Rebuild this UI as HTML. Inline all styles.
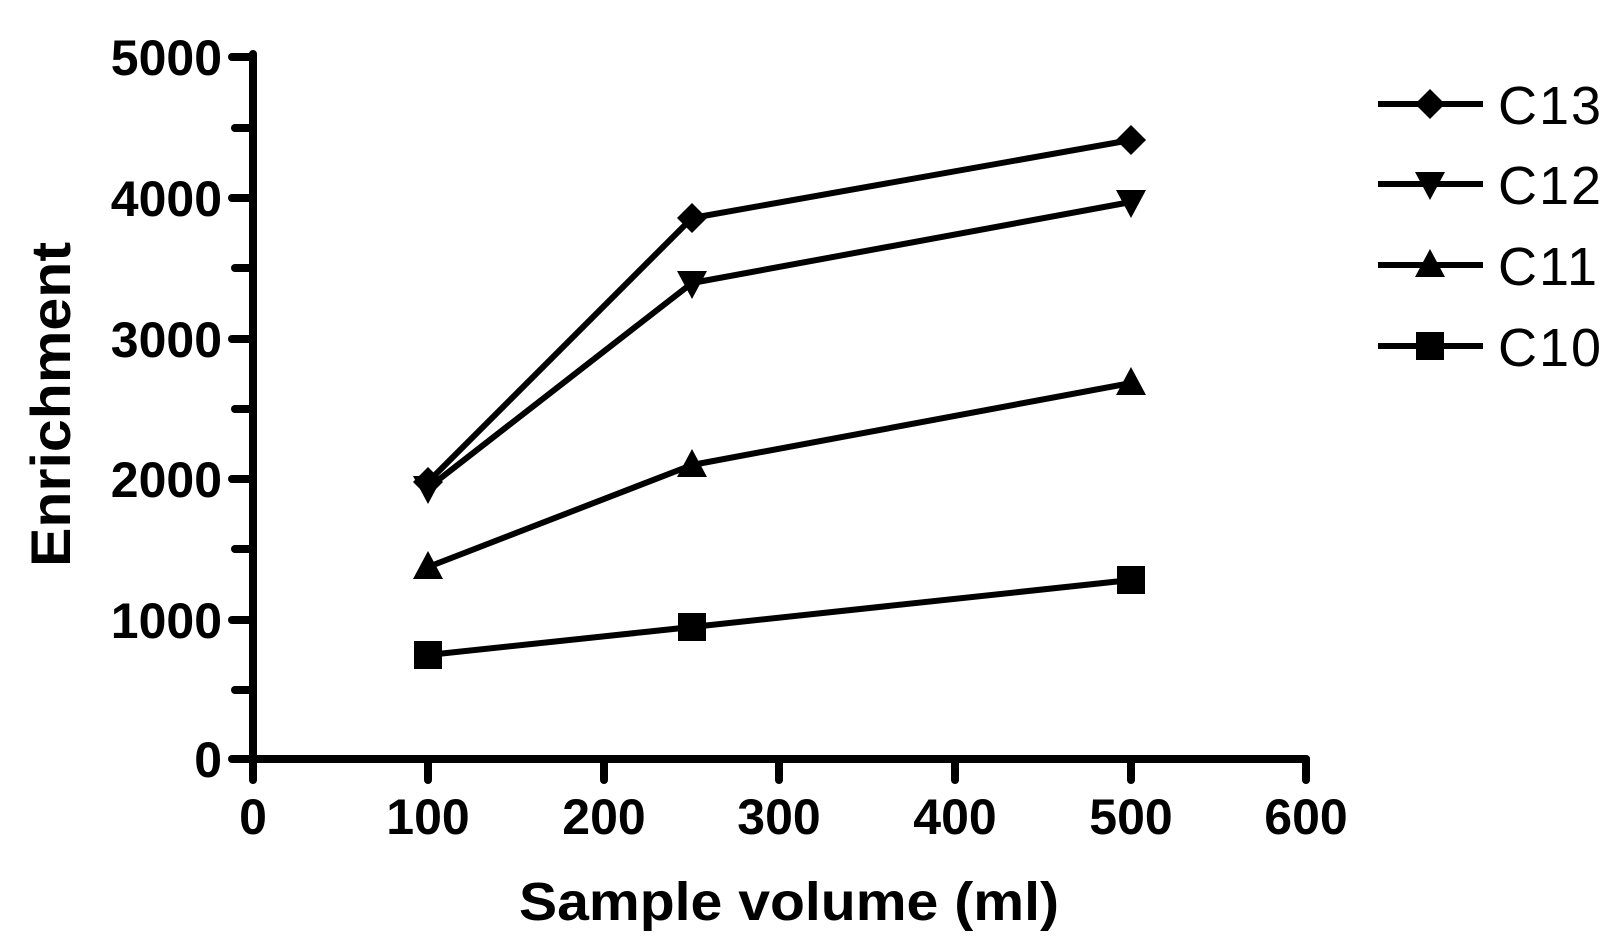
<!DOCTYPE html>
<html><head><meta charset="utf-8"><style>
html,body{margin:0;padding:0;background:#fff;}
svg{display:block;}
text{font-family:"Liberation Sans",Arial,sans-serif;fill:#000;}
.t{font-weight:bold;font-size:50px;}
</style></head><body>
<svg width="1620" height="945" viewBox="0 0 1620 945" xmlns="http://www.w3.org/2000/svg">
<defs>
<path id="dia" d="M0,-15 L15,0 L0,15 L-15,0 Z"/>
<path id="dn" d="M-15,-12 L15,-12 L0,16 Z"/>
<path id="up" d="M0,-16 L15,12 L-15,12 Z"/>
<path id="sq" d="M-14,-14 H14 V14 H-14 Z"/>
</defs>
<g stroke="#000" stroke-width="8" stroke-linecap="round" fill="none">
<line x1="253" y1="54" x2="253" y2="762"/>
<line x1="253" y1="759" x2="1306" y2="759"/>
<line x1="232" y1="57" x2="253" y2="57"/>
<line x1="235" y1="128" x2="253" y2="128"/>
<line x1="232" y1="198" x2="253" y2="198"/>
<line x1="235" y1="268" x2="253" y2="268"/>
<line x1="232" y1="339" x2="253" y2="339"/>
<line x1="235" y1="409" x2="253" y2="409"/>
<line x1="232" y1="479" x2="253" y2="479"/>
<line x1="235" y1="549" x2="253" y2="549"/>
<line x1="232" y1="620" x2="253" y2="620"/>
<line x1="235" y1="690" x2="253" y2="690"/>
<line x1="232" y1="759" x2="253" y2="759"/>
<line x1="253" y1="759" x2="253" y2="780"/>
<line x1="428" y1="759" x2="428" y2="780"/>
<line x1="604" y1="759" x2="604" y2="780"/>
<line x1="779" y1="759" x2="779" y2="780"/>
<line x1="955" y1="759" x2="955" y2="780"/>
<line x1="1131" y1="759" x2="1131" y2="780"/>
<line x1="1306" y1="759" x2="1306" y2="780"/>
</g>
<g class="t" text-anchor="end">
<text x="222" y="75" class="t">5000</text>
<text x="222" y="216" class="t">4000</text>
<text x="222" y="357" class="t">3000</text>
<text x="222" y="497" class="t">2000</text>
<text x="222" y="638" class="t">1000</text>
<text x="222" y="777" class="t">0</text>
</g>
<g text-anchor="middle">
<text x="253" y="834" class="t">0</text>
<text x="428" y="834" class="t">100</text>
<text x="604" y="834" class="t">200</text>
<text x="779" y="834" class="t">300</text>
<text x="955" y="834" class="t">400</text>
<text x="1131" y="834" class="t">500</text>
<text x="1306" y="834" class="t">600</text>
</g>
<text x="519" y="920" class="t" style="font-size:54px" textLength="540" lengthAdjust="spacingAndGlyphs">Sample volume (ml)</text>
<text x="0" y="0" class="t" style="font-size:56px" textLength="325" lengthAdjust="spacingAndGlyphs" transform="translate(70,567) rotate(-90)">Enrichment</text>
<g stroke="#000" stroke-width="6" fill="none" stroke-linejoin="round">
<polyline points="428,482 692,218 1131,140"/>
<polyline points="428,488 692,283 1131,202"/>
<polyline points="428,567 692,465 1131,383"/>
<polyline points="428,655 692,627 1131,580"/>
<line x1="1378" y1="104" x2="1483" y2="104"/>
<line x1="1378" y1="184" x2="1483" y2="184"/>
<line x1="1378" y1="265" x2="1483" y2="265"/>
<line x1="1378" y1="346" x2="1483" y2="346"/>
</g>
<g fill="#000">
<use href="#dia" x="428" y="482"/><use href="#dia" x="692" y="218"/><use href="#dia" x="1131" y="140"/>
<use href="#dn" x="428" y="488"/><use href="#dn" x="692" y="283"/><use href="#dn" x="1131" y="202"/>
<use href="#up" x="428" y="567"/><use href="#up" x="692" y="465"/><use href="#up" x="1131" y="383"/>
<use href="#sq" x="428" y="655"/><use href="#sq" x="692" y="627"/><use href="#sq" x="1131" y="580"/>
<use href="#dia" x="1430" y="104"/>
<use href="#dn" x="1430" y="184"/>
<use href="#up" x="1430" y="265"/>
<use href="#sq" x="1430" y="346"/>
</g>
<g font-size="54">
<text x="1498" y="124" letter-spacing="2">C13</text>
<text x="1498" y="204" letter-spacing="2">C12</text>
<text x="1498" y="285" letter-spacing="2">C11</text>
<text x="1498" y="366" letter-spacing="2">C10</text>
</g>
</svg>
</body></html>
